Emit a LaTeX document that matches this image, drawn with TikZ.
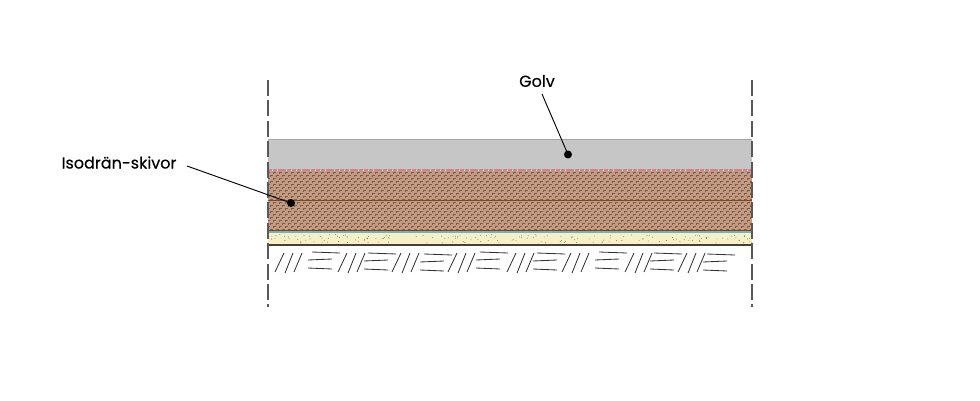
\documentclass[tikz,border=0pt]{standalone}
\usepackage{fontspec}
\setmainfont{Poppins}[FakeBold=0.25]
\definecolor{concrete}{HTML}{C6C6C6}
\definecolor{brownlight}{HTML}{C29B82}
\definecolor{brownmark}{HTML}{7E5C47}
\definecolor{brownline}{HTML}{7A4A22}
\definecolor{sand}{HTML}{F6F0C4}
\definecolor{sanddot}{HTML}{6E6A50}
\definecolor{membrane}{HTML}{6FB3BE}
\definecolor{redfoil}{HTML}{DD7C88}
\tikzset{
  x=0.75pt,y=-0.75pt,
  lbl/.style={inner sep=0pt,font=\fontsize{12pt}{14pt}\selectfont},
  leader/.style={draw=black,line width=0.7pt},
  pin/.style={circle,fill=black,inner sep=0pt,minimum size=6pt},
  cut/.style={draw=black!65,line width=0.9pt,dash pattern=on 12pt off 3.3pt},
  hatch/.style={draw=black!80,line width=0.62pt}
}
\begin{document}
\begin{tikzpicture}
\useasboundingbox (0,0) rectangle (980,400);
\fill[white] (0,0) rectangle (980,400);
% concrete
\fill[concrete] (268,139) rectangle (752,169.5);
\draw[black!35,line width=0.6pt] (268,139) -- (752,139);
% brown insulation
\fill[brownlight] (268,171) rectangle (752,231);
\begin{scope}
\clip (268,171) rectangle (752,231);
\foreach \r in {0,...,19}{
  \pgfmathsetmacro{\yy}{171.5+3*\r}
  \pgfmathsetmacro{\off}{mod(\r,2)*3}
  \foreach \c in {0,...,81}{
    \fill[brownmark] ({267+\off+6*\c},\yy) rectangle +(3.2,1.3);
    \fill[brownmark] ({267+\off+6*\c},\yy) rectangle +(1.2,2.4);
  }
}
\end{scope}
\draw[brownline,line width=1.1pt] (268,200.5) -- (752,200.5);
\draw[brownline,line width=0.7pt] (268,230.5) -- (752,230.5);
% red foil
\draw[redfoil,line width=1pt,dash pattern=on 3pt off 0.6pt] (268,170) -- (752,170);
% membrane
\draw[membrane,line width=1.2pt] (268,232) -- (752,232);
% sand
\fill[sand] (268,233) rectangle (752,244);
\pgfmathsetseed{42}
\foreach \i in {1,...,170}{
  \pgfmathsetmacro{\dx}{268+484*rnd}
  \pgfmathsetmacro{\dy}{234.5+8.5*rnd}
  \fill[sanddot] (\dx,\dy) circle (0.45);
}
% base line
\draw[black!75,line width=0.8pt] (268,245) -- (752,245);
% soil hatching
\foreach \g in {275,338,392,448,507,562,625,678}{
  \draw[hatch] ({\g},272) -- ({\g+9},253) ({\g+10},273) -- ({\g+18},253) ({\g+19},272) -- ({\g+27},253);
}
\foreach \g/\s in {308/0,364/1,420/2,476/0,533/1,595/0,650/1,703/2}{
  \pgfmathsetmacro{\d}{\s*1}
  \draw[hatch] ({\g+4},{252+\d}) -- ({\g+32},{253+\d}) ({\g},{260+\d}) -- ({\g+24},{259+\d}) ({\g},{268+\d}) -- ({\g+24},{269+\d});
}
% section cut lines
\coordinate (cutLtop) at (268,80);
\coordinate (cutLbot) at (268,307);
\coordinate (cutRtop) at (752,80);
\coordinate (cutRbot) at (752,307);
\draw[cut] (cutLtop) -- (cutLbot);
\draw[cut] (cutRtop) -- (cutRbot);
% labels and leaders
\node[lbl,anchor=center] (golv) at (537,81) {Golv};
\node[lbl,anchor=center] (iso) at (119,162.5) {Isodrän-skivor};
\node[pin] (golvpin) at (568,154.5) {};
\node[pin] (isopin) at (291,203) {};
\coordinate (golvstart) at (542,94);
\coordinate (isostart) at (187,166);
\draw[leader] (golvstart) -- (golvpin.center);
\draw[leader] (isostart) -- (isopin.center);
\end{tikzpicture}
\end{document}
